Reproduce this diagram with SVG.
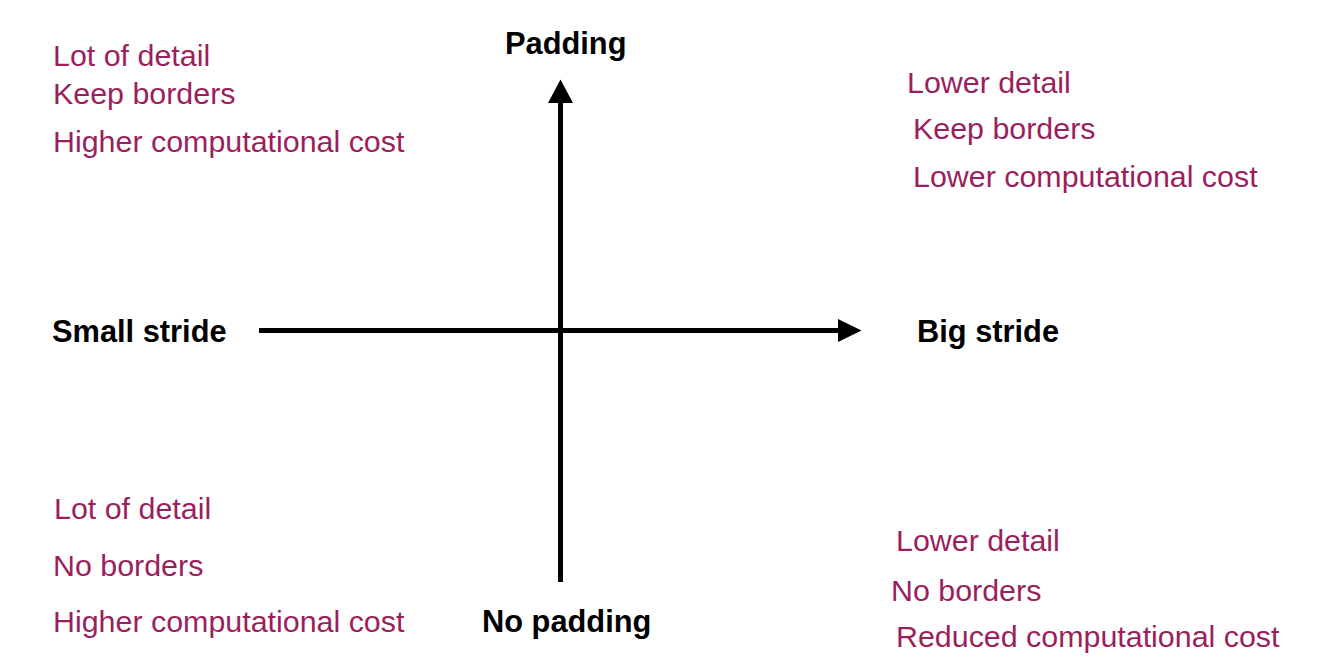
<svg xmlns="http://www.w3.org/2000/svg" width="1317" height="672" viewBox="0 0 1317 672">
<style>
.lbl{font-family:"Liberation Sans",Arial,sans-serif;font-size:30.8px;font-weight:bold;fill:#000}
.note{font-family:"Liberation Sans",Arial,sans-serif;font-size:30.4px;fill:#9a1f5c}
.axis{stroke:#000;stroke-width:5;fill:none}
</style>
<rect width="1317" height="672" fill="#fff"/>
<g id="connectors">
<line class="axis" x1="259" y1="330.5" x2="840" y2="330.5"/>
<polygon points="838,319 861.5,330.5 838,342" fill="#000"/>
<line class="axis" x1="560.5" y1="582" x2="560.5" y2="101"/>
<polygon points="548,103 560.5,79.5 573,103" fill="#000"/>
</g>
<g id="padding"><text class="lbl" x="505" y="54">Padding</text></g>
<g id="no-padding"><text class="lbl" x="482" y="632">No padding</text></g>
<g id="small-stride"><text class="lbl" x="52" y="342">Small stride</text></g>
<g id="big-stride"><text class="lbl" x="917" y="342">Big stride</text></g>
<g id="top-left">
<text class="note" x="53" y="66">Lot of detail</text>
<text class="note" x="53" y="104">Keep borders</text>
<text class="note" x="53" y="152">Higher computational cost</text>
</g>
<g id="top-right">
<text class="note" x="907" y="93">Lower detail</text>
<text class="note" x="913" y="139">Keep borders</text>
<text class="note" x="913" y="187">Lower computational cost</text>
</g>
<g id="bottom-left">
<text class="note" x="54" y="519">Lot of detail</text>
<text class="note" x="53" y="576">No borders</text>
<text class="note" x="53" y="632">Higher computational cost</text>
</g>
<g id="bottom-right">
<text class="note" x="896" y="551">Lower detail</text>
<text class="note" x="891" y="601">No borders</text>
<text class="note" x="896" y="647">Reduced computational cost</text>
</g>
</svg>
